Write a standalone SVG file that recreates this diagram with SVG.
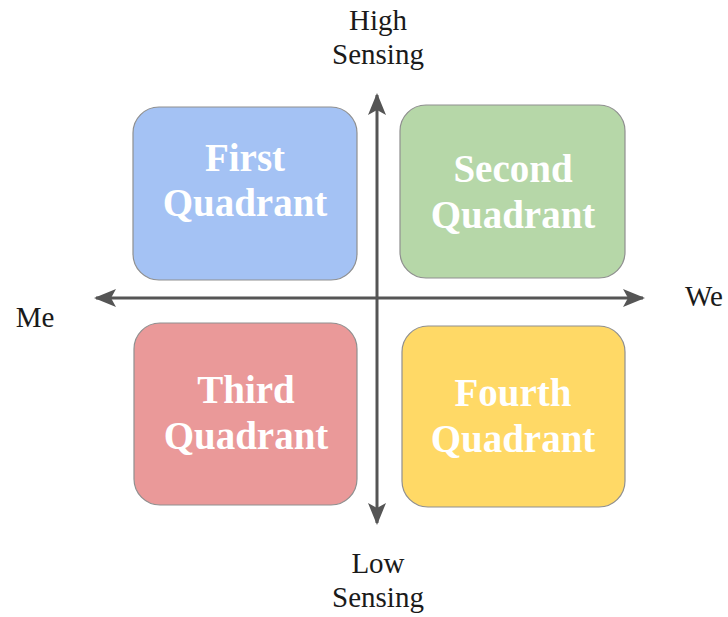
<svg xmlns="http://www.w3.org/2000/svg" width="728" height="617" viewBox="0 0 728 617">
  <style>
    .box { stroke: #8f8f8f; stroke-width: 1.2; }
    .qtext { font-family: "Liberation Serif", "Times New Roman", serif; font-weight: bold; font-size: 39px; fill: #ffffff; text-anchor: middle; }
    .label { font-family: "Liberation Serif", "Times New Roman", serif; font-size: 29px; fill: #1a1a1a; text-anchor: middle; }
    .axis { stroke: #555555; stroke-width: 3; fill: none; }
  </style>
  <defs>
    <marker id="arrow" viewBox="0 0 22 18" refX="20" refY="9" markerWidth="22" markerHeight="18" markerUnits="userSpaceOnUse" orient="auto">
      <path d="M0,0 L22,9 L0,18 L5,9 Z" fill="#555555"/>
    </marker>
  </defs>

  <rect width="728" height="617" fill="#ffffff"/>

  <!-- quadrants -->
  <g id="first-quadrant">
    <rect class="box" x="133" y="107" width="224" height="173" rx="26" fill="#a4c2f4"/>
    <text class="qtext" x="245" y="171">First</text>
    <text class="qtext" x="245" y="216">Quadrant</text>
  </g>
  <g id="second-quadrant">
    <rect class="box" x="400" y="105" width="225" height="173" rx="26" fill="#b6d7a8"/>
    <text class="qtext" x="513" y="182">Second</text>
    <text class="qtext" x="513" y="228">Quadrant</text>
  </g>
  <g id="third-quadrant">
    <rect class="box" x="134" y="323" width="223" height="182" rx="26" fill="#ea9999"/>
    <text class="qtext" x="246" y="403">Third</text>
    <text class="qtext" x="246" y="449">Quadrant</text>
  </g>
  <g id="fourth-quadrant">
    <rect class="box" x="402" y="326" width="223" height="181" rx="26" fill="#ffd966"/>
    <text class="qtext" x="513" y="406">Fourth</text>
    <text class="qtext" x="513" y="452">Quadrant</text>
  </g>

  <!-- axes -->
  <g id="connectors">
    <line class="axis" x1="377" y1="297" x2="377" y2="95" marker-end="url(#arrow)"/>
    <line class="axis" x1="377" y1="297" x2="377" y2="523" marker-end="url(#arrow)"/>
    <line class="axis" x1="377" y1="298" x2="96" y2="298" marker-end="url(#arrow)"/>
    <line class="axis" x1="377" y1="298" x2="643" y2="298" marker-end="url(#arrow)"/>
  </g>

  <!-- axis labels -->
  <g id="label-high">
    <text class="label" x="378" y="30">High</text>
    <text class="label" x="378" y="64">Sensing</text>
  </g>
  <g id="label-low">
    <text class="label" x="378" y="573">Low</text>
    <text class="label" x="378" y="607">Sensing</text>
  </g>
  <g id="label-me">
    <text class="label" x="35" y="327">Me</text>
  </g>
  <g id="label-we">
    <text class="label" x="704" y="306">We</text>
  </g>
</svg>
